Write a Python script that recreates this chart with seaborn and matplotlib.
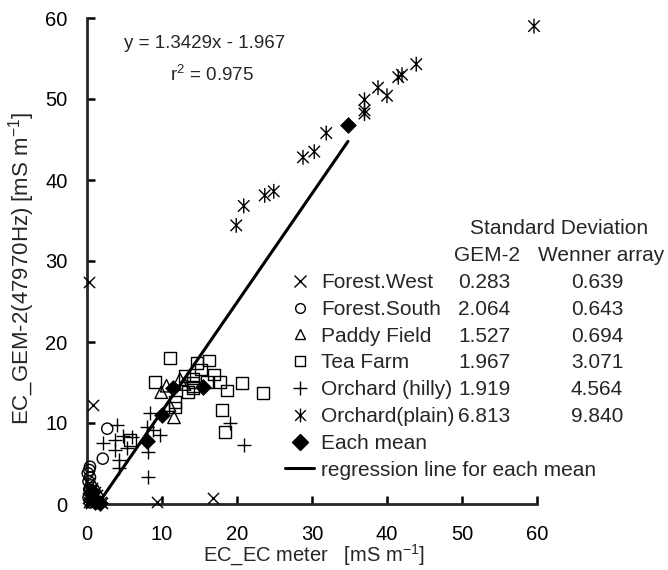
import numpy as np
import pandas as pd
import matplotlib
matplotlib.use("Agg")
import matplotlib.pyplot as plt
import seaborn as sns
from matplotlib.lines import Line2D
from matplotlib.path import Path

# ---------------- data ----------------
categories = ["Forest.West", "Forest.South", "Paddy Field", "Tea Farm",
              "Orchard (hilly)", "Orchard(plain)"]

fw_x = [0.3, 0.8, 9.3, 16.8, 0.2, 0.5, 0.8, 1.2, 0.3, 0.6, 1.0, 1.5, 2.0, 0.1, 0.4, 1.8, 0.9, 0.2, 1.3, 0.7]
fw_y = [27.4, 12.2, 0.2, 0.8, 0.3, 0.1, 0.6, 0.2, 1.2, 2.0, 1.5, 0.4, 0.1, 0.8, 0.5, 0.3, 0.9, 2.6, 1.1, 0.2]

fs_x = [2.7, 2.1, 0.4, 0.3, 0.1, 0.4, 0.2, 0.5, 0.3, 0.6, 0.2, 0.8, 0.4]
fs_y = [9.3, 5.6, 4.6, 4.2, 3.8, 3.3, 2.8, 2.3, 1.8, 1.3, 0.8, 0.5, 0.2]

pf_x = [9.9, 11.6, 12.4, 11.0, 10.6, 13.0, 1.0, 1.4, 0.7]
pf_y = [13.8, 10.7, 15.4, 12.2, 14.6, 14.8, 0.9, 1.6, 0.4]

tf_x = [11.1, 14.7, 16.3, 16.9, 14.1, 14.1, 14.1, 14.1, 9.1, 13.5, 16.0, 17.7,
        18.7, 20.7, 23.5, 18.0, 11.7, 11.7, 18.4, 5.7, 15.2, 13.0]
tf_y = [18.0, 17.4, 17.7, 16.0, 15.5, 15.0, 14.5, 14.3, 15.1, 13.8, 15.1, 15.1,
        14.0, 14.9, 13.7, 11.6, 12.6, 11.9, 8.9, 7.9, 16.6, 15.8]

oh_x = [4.0, 2.1, 3.7, 4.8, 6.0, 3.7, 5.3, 4.3, 4.3, 8.4, 8.0, 8.8, 9.7, 8.1, 8.1, 19.1, 20.9]
oh_y = [9.8, 7.5, 7.9, 8.4, 8.3, 6.7, 6.9, 5.4, 4.4, 11.2, 9.5, 9.1, 8.5, 6.4, 3.3, 10.0, 7.3]

op_x = [59.6, 43.9, 42.0, 41.5, 40.0, 38.8, 37.0, 37.0, 37.0, 31.9, 30.3, 28.8, 24.9, 23.7, 20.9, 19.9]
op_y = [59.0, 54.3, 53.0, 52.7, 50.4, 51.4, 49.9, 48.6, 48.2, 45.8, 43.5, 42.8, 38.6, 38.1, 36.8, 34.4]

mean_x = [1.0, 1.7, 0.7, 8.0, 10.0, 11.5, 15.5, 34.8]
mean_y = [0.2, 0.1, 1.6, 7.8, 11.0, 14.3, 14.4, 46.8]

reg_slope = 1.3429
reg_intercept = -1.967
reg_r2 = 0.975
reg_x_range = [1.7, 34.8]

gem2_sd = [0.283, 2.064, 1.527, 1.967, 1.919, 6.813]
wenner_sd = [0.639, 0.643, 0.694, 3.071, 4.564, 9.840]

# ---------------- style ----------------
sns.set_style("ticks")
plt.rcParams["font.family"] = ["Liberation Sans", "DejaVu Sans"]
plt.rcParams["mathtext.fontset"] = "custom"
plt.rcParams["mathtext.rm"] = "Liberation Sans"
plt.rcParams["mathtext.it"] = "Liberation Sans:italic"
plt.rcParams["mathtext.default"] = "regular"

FS = 15
TFS = 14.5

fig = plt.figure(figsize=(6.68, 5.70), dpi=100)
ax = fig.add_axes([87 / 668, 66 / 570, 450 / 668, 486 / 570])

ast_path = Path([(-1, -1), (1, 1), (-1, 1), (1, -1), (0, -1.3), (0, 1.3)],
                [Path.MOVETO, Path.LINETO, Path.MOVETO, Path.LINETO, Path.MOVETO, Path.LINETO])

series = [
    (fw_x, fw_y, "x", 65, False),
    (fs_x, fs_y, "o", 65, True),
    (pf_x, pf_y, "^", 80, True),
    (tf_x, tf_y, "s", 70, True),
    (oh_x, oh_y, "+", 95, False),
    (op_x, op_y, ast_path, 115, True),
]

for (xs, ys, m, s, open_filled), name in zip(series, categories):
    df = pd.DataFrame({"x": xs, "y": ys})
    if open_filled:
        sns.scatterplot(data=df, x="x", y="y", marker=m, s=s, facecolor="none",
                        edgecolor="black", linewidth=1.0, ax=ax, clip_on=False, zorder=3)
    else:
        sns.scatterplot(data=df, x="x", y="y", marker=m, s=s, color="black",
                        linewidth=1.0, ax=ax, clip_on=False, zorder=3)

# regression line for means
rx = np.array(reg_x_range)
sns.lineplot(x=rx, y=reg_slope * rx + reg_intercept, color="black", linewidth=2.2, ax=ax, zorder=4)

# means
sns.scatterplot(x=mean_x, y=mean_y, marker="D", s=65, color="black", edgecolor="black",
                linewidth=0.5, ax=ax, clip_on=False, zorder=5)

ax.set_xlim(0, 60)
ax.set_ylim(0, 60)
ax.set_xticks(range(0, 61, 10))
ax.set_yticks(range(0, 61, 10))
sns.despine(ax=ax)
for sp in ["left", "bottom"]:
    ax.spines[sp].set_linewidth(2.0)
ax.tick_params(direction="in", length=6, width=1.8, labelsize=TFS, pad=14, colors="black")
ax.tick_params(axis="x", pad=15)

ax.set_xlabel("EC_EC meter   [mS m$^{-1}$]", fontsize=14.5)
ax.set_ylabel("EC_GEM-2(47970Hz) [mS m$^{-1}$]", fontsize=16)
ax.xaxis.label.set_va("top")
ax.yaxis.label.set_va("center")
ax.yaxis.set_label_coords(-0.145, 0.485)

# regression equation
ax.text(5.0, 56.9, f"y = {reg_slope:.4f}x - {abs(reg_intercept):.3f}", fontsize=13.5, va="center", ha="left")
ax.text(11.1, 53.0, f"r$^2$ = {reg_r2:.3f}", fontsize=13.5, va="center", ha="left")

# legend
handles = [
    Line2D([], [], marker="x", color="k", linestyle="none", markersize=8, mew=1.0),
    Line2D([], [], marker="o", color="k", mfc="none", linestyle="none", markersize=7, mew=1.0),
    Line2D([], [], marker="^", color="k", mfc="none", linestyle="none", markersize=7, mew=1.0),
    Line2D([], [], marker="s", color="k", mfc="none", linestyle="none", markersize=7, mew=1.0),
    Line2D([], [], marker="+", color="k", linestyle="none", markersize=10, mew=1.0),
    Line2D([], [], marker=ast_path, color="k", mfc="none", linestyle="none", markersize=10, mew=1.0),
    Line2D([], [], marker="D", color="k", linestyle="none", markersize=8.5),
    Line2D([], [], color="k", linewidth=2.2),
]
labels = categories + ["Each mean", "regression line for each mean"]
leg = ax.legend(handles, labels, loc="upper left", bbox_to_anchor=(285 / 668, 1 - 273 / 570),
                bbox_transform=fig.transFigure, frameon=False, fontsize=FS,
                handlelength=1.4, handletextpad=0.35, labelspacing=0.375,
                borderpad=0, borderaxespad=0)

fig.canvas.draw()
renderer = fig.canvas.get_renderer()

# place x label right below the tick labels
tl_bottom = min(t.get_window_extent(renderer).y0 for t in ax.get_xticklabels())
ax_bb = ax.get_window_extent(renderer)
ax.xaxis.set_label_coords(0.505, (tl_bottom + 1 - ax_bb.y0) / ax_bb.height)

inv = ax.transData.inverted()
texts = leg.get_texts()
row_y = []
for t in texts[:6]:
    bb = t.get_window_extent(renderer)
    yc = (bb.y0 + bb.y1) / 2
    row_y.append(inv.transform((0, yc))[1])

col_gem = 49.5
col_wen = 64.5
for yv, g, w in zip(row_y, gem2_sd, wenner_sd):
    ax.text(col_gem, yv, f"{g:.3f}", fontsize=FS, va="center", ha="left", clip_on=False)
    ax.text(col_wen, yv, f"{w:.3f}", fontsize=FS, va="center", ha="left", clip_on=False)

step = row_y[0] - row_y[1]
ax.text(53.3, row_y[0] + step, "GEM-2", fontsize=FS, va="center", ha="center", clip_on=False)
ax.text(68.5, row_y[0] + step, "Wenner array", fontsize=FS, va="center", ha="center", clip_on=False)
ax.text(62.9, row_y[0] + 2 * step, "Standard Deviation", fontsize=FS, va="center", ha="center", clip_on=False)

fig.savefig("out.png", dpi=100)
